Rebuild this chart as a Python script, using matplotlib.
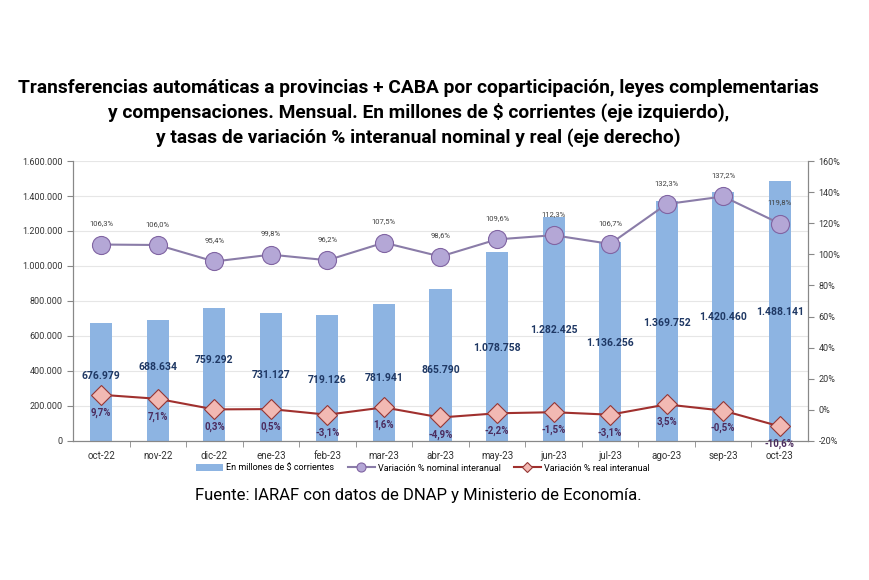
# Transferencias automaticas a provincias + CABA - grafico de barras y lineas
import matplotlib.pyplot as plt
from matplotlib.ticker import FuncFormatter, MultipleLocator

# Datos
meses = ['oct-22', 'nov-22', 'dic-22', 'ene-23', 'feb-23', 'mar-23', 'abr-23',
         'may-23', 'jun-23', 'jul-23', 'ago-23', 'sep-23', 'oct-23']
millones = [676979, 688634, 759292, 731127, 719126, 781941, 865790,
            1078758, 1282425, 1136256, 1369752, 1420460, 1488141]
var_nominal = [106.3, 106.0, 95.4, 99.8, 96.2, 107.5, 98.6,
               109.6, 112.3, 106.7, 132.3, 137.2, 119.8]
var_real = [9.7, 7.1, 0.3, 0.5, -3.1, 1.6, -4.9,
            -2.2, -1.5, -3.1, 3.5, -0.5, -10.6]

# altura (eje izquierdo) donde Excel puso la etiqueta de cada barra
etiq_y = [371000, 421000, 463000, 378000, 350000, 362000, 406000,
          531000, 634000, 560000, 675000, 708000, 737000]


def miles(v):
    return f'{int(v):,}'.replace(',', '.')


def pct(v):
    return f'{v:.1f}%'.replace('.', ',')


plt.rcParams['font.family'] = ['Roboto', 'DejaVu Sans']

fig = plt.figure(figsize=(8.7, 5.8), dpi=100)
ax = fig.add_axes([0.0839, 0.2397, 0.8448, 0.4827])
ax2 = ax.twinx()

x = list(range(len(meses)))

bars = ax.bar(x, millones, width=0.39, color='#8DB4E2', zorder=2,
              label='En millones de $ corrientes')
for i, v in enumerate(millones):
    ax.text(i, etiq_y[i], miles(v), ha='center', va='center', fontsize=7.5,
            fontweight='bold', color='#1F3864', zorder=5)

ax.set_xlim(-0.5, len(meses) - 0.5)
ax.set_ylim(0, 1600000)
ax.yaxis.set_major_locator(MultipleLocator(200000))
ax.yaxis.set_major_formatter(FuncFormatter(lambda v, p: miles(v)))
ax.grid(axis='y', color='#E6E6E6', lw=0.8, zorder=0)
ax.set_axisbelow(True)
ax.set_xticks(x)
ax.set_xticklabels(meses)
ax.set_xticks([i + 0.5 for i in x[:-1]], minor=True)
ax.tick_params(axis='x', which='major', length=0, labelsize=7, colors='#333333', pad=7)
ax.tick_params(axis='x', which='minor', length=4, color='#888888')
ax.tick_params(axis='y', labelsize=6.5, colors='#333333', length=4, color='#888888')

l1, = ax2.plot(x, var_nominal, color='#8A7CA8', lw=1.5, marker='o', markersize=13,
               markerfacecolor='#B4A7D6', markeredgecolor='#8064A2', markeredgewidth=0.8,
               label='Variación % nominal interanual', zorder=4)
l2, = ax2.plot(x, var_real, color='#A0302E', lw=1.5, marker='D', markersize=10,
               markerfacecolor='#F2B9B3', markeredgecolor='#953735', markeredgewidth=0.8,
               label='Variación % real interanual', zorder=4)
for i, v in enumerate(var_nominal):
    ax2.annotate(pct(v), (i, v), xytext=(0, 13), textcoords='offset points',
                 ha='center', va='bottom', fontsize=5.5, color='#404040')
for i, v in enumerate(var_real):
    ax2.annotate(pct(v), (i, v), xytext=(0, -9), textcoords='offset points',
                 ha='center', va='top', fontsize=7, fontweight='bold', color='#4B2C5E')

ax2.set_ylim(-20, 160)
ax2.yaxis.set_major_locator(MultipleLocator(20))
ax2.yaxis.set_major_formatter(FuncFormatter(lambda v, p: f'{int(v)}%'))
ax2.tick_params(axis='y', labelsize=6.5, colors='#333333', length=4, color='#888888')

for a in (ax, ax2):
    a.spines['top'].set_visible(False)
    for s in ('left', 'right', 'bottom'):
        a.spines[s].set_color('#888888')

fig.legend(handles=[bars, l1, l2], loc='center', bbox_to_anchor=(0.486, 0.193), ncol=3,
           frameon=False, fontsize=6.5, handlelength=3, columnspacing=1.5,
           handletextpad=0.3, markerscale=0.5, borderpad=0.1)

fig.text(0.481, 0.84, 'Transferencias automáticas a provincias + CABA por coparticipación, leyes complementarias',
         ha='center', fontsize=13.8, fontweight='bold')
fig.text(0.481, 0.797, 'y compensaciones. Mensual. En millones de $ corrientes (eje izquierdo),',
         ha='center', fontsize=13.8, fontweight='bold')
fig.text(0.481, 0.753, 'y tasas de variación % interanual nominal y real (eje derecho)',
         ha='center', fontsize=13.8, fontweight='bold')
fig.text(0.481, 0.138, 'Fuente: IARAF con datos de DNAP y Ministerio de Economía.',
         ha='center', fontsize=12)

fig.savefig('out.png', dpi=100)
